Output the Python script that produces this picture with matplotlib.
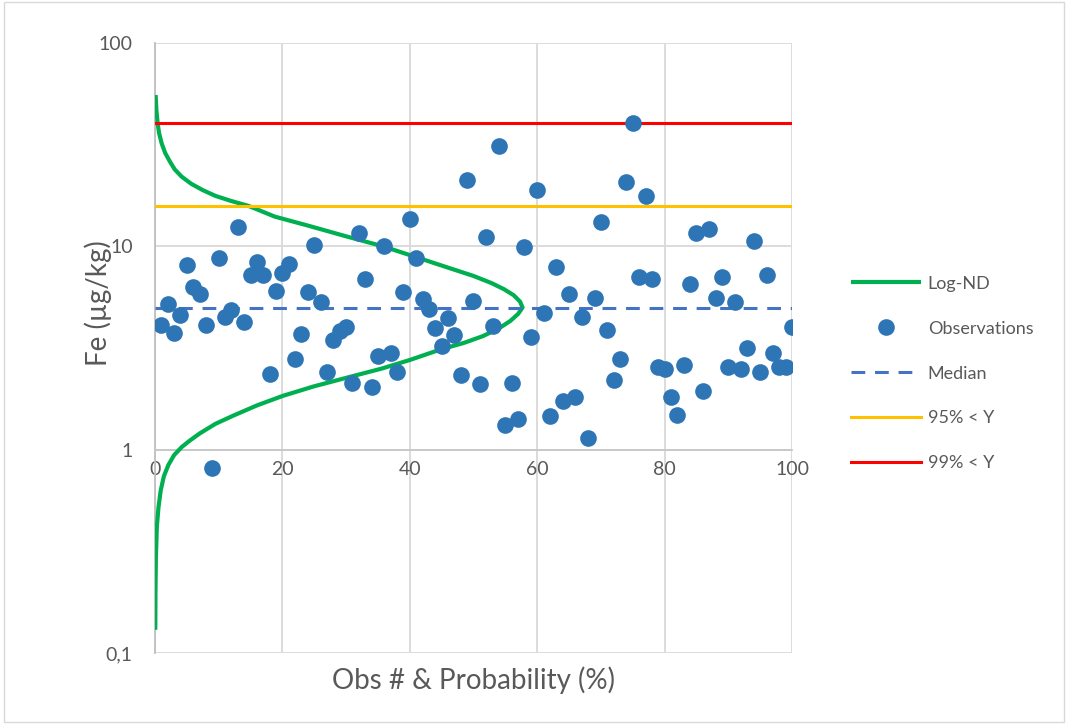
#!/usr/bin/env python3
"""Fe observations against a fitted log-normal density, with median and upper limits."""

import matplotlib.pyplot as plt
from matplotlib.patches import Rectangle
from matplotlib.ticker import FixedLocator, FuncFormatter, NullLocator

plt.rcParams["font.family"] = ["Lato", "DejaVu Sans"]

# observation number and measured Fe (µg/kg)
obs_no = list(range(1, 101))
fe_obs = [
    4.1, 5.2, 3.75, 4.6, 8.1, 6.3, 5.8, 4.1, 0.81, 8.8,
    4.5, 4.85, 12.5, 4.25, 7.2, 8.4, 7.2, 2.35, 6.0, 7.4,
    8.2, 2.78, 3.7, 5.95, 10.2, 5.3, 2.4, 3.45, 3.85, 4.0,
    2.13, 11.6, 6.9, 2.04, 2.9, 10.0, 3.0, 2.4, 5.95, 13.6,
    8.8, 5.5, 4.9, 3.95, 3.25, 4.45, 3.65, 2.33, 21.3, 5.4,
    2.1, 11.1, 4.07, 31.0, 1.32, 2.13, 1.41, 9.9, 3.6, 18.9,
    4.7, 1.47, 7.9, 1.74, 5.8, 1.82, 4.5, 1.14, 5.6, 13.2,
    3.88, 2.2, 2.78, 20.8, 40.3, 7.1, 17.7, 6.9, 2.55, 2.48,
    1.82, 1.48, 2.6, 6.5, 11.6, 1.95, 12.1, 5.55, 7.1, 2.56,
    5.3, 2.5, 3.15, 10.6, 2.4, 7.2, 3.0, 2.55, 2.55, 4.0,
]

# log-normal density (probability %) traced against Fe level, low to high
lognd_prob = [
    0.05, 0.08, 0.15, 0.3, 0.55, 0.9, 1.4, 2.1, 3.0, 4.2,
    5.5, 7.0, 9.5, 12.3, 16.0, 20.1, 25.0, 30.6, 35.5, 40.0,
    44.7, 48.5, 51.5, 54.0, 55.8, 57.0, 57.7, 57.3, 56.3, 54.8,
    52.8, 50.0, 45.5, 40.5, 35.8, 30.0, 23.8, 18.8, 14.7, 12.0,
    9.5, 7.5, 5.7, 4.2, 3.1, 2.35, 1.6, 1.05, 0.65, 0.42,
    0.22, 0.1,
]
lognd_fe = [
    0.13, 0.2, 0.3, 0.42, 0.52, 0.63, 0.74, 0.84, 0.94, 1.03,
    1.11, 1.2, 1.34, 1.47, 1.65, 1.84, 2.05, 2.28, 2.5, 2.76,
    3.1, 3.35, 3.62, 3.95, 4.3, 4.65, 5.0, 5.35, 5.75, 6.15,
    6.6, 7.15, 7.95, 8.95, 10.0, 11.2, 12.7, 14.0, 15.8, 16.7,
    17.7, 18.9, 20.3, 22.0, 23.9, 26.1, 28.8, 32.1, 36.0, 40.2,
    47.0, 55.5,
]

median_fe = 5.0
p95_fe = 15.8
p99_fe = 40.3
x_span = [0, 100]

text_grey = "#595959"

fig = plt.figure(figsize=(10.68, 7.24), dpi=100)
ax = fig.add_axes([0.1451, 0.0981, 0.7416 - 0.1451, 0.9406 - 0.0981])

curve, = ax.plot(lognd_prob, lognd_fe, color="#00B050", lw=3.0,
                 solid_capstyle="butt", solid_joinstyle="round", zorder=3,
                 label="Log-ND")
med, = ax.plot(x_span, [median_fe] * 2, color="#4472C4", lw=2.2,
               dashes=(4.5, 3.2), zorder=3, label="Median")
l95, = ax.plot(x_span, [p95_fe] * 2, color="#FFC000", lw=2.2, zorder=3,
               label="95% < Y")
l99, = ax.plot(x_span, [p99_fe] * 2, color="#FF0000", lw=2.2, zorder=3,
               label="99% < Y")
pts, = ax.plot(obs_no, fe_obs, "o", color="#2E75B6", ms=12, mew=0,
               zorder=4, label="Observations")

ax.set_yscale("log")
ax.set_xlim(0, 100)
ax.set_ylim(0.1, 100)

ax.xaxis.set_major_locator(FixedLocator([0, 20, 40, 60, 80, 100]))
ax.yaxis.set_major_locator(FixedLocator([0.1, 1, 10, 100]))
ax.yaxis.set_minor_locator(NullLocator())
ax.yaxis.set_major_formatter(
    FuncFormatter(lambda v, _: f"{v:g}".replace(".", ",")))
ax.tick_params(length=0, labelsize=14, labelcolor=text_grey)
ax.tick_params(axis="y", pad=16)
ax.tick_params(axis="x", pad=8)

ax.grid(True, color="#D9D9D9", lw=1.3)
ax.set_axisbelow(True)
for side in ("top", "right"):
    ax.spines[side].set_visible(False)
# horizontal axis crosses the value axis at 1
ax.spines["bottom"].set_position(("data", 1))
ax.spines["bottom"].set_color("#C8C8C8")
ax.spines["left"].set_color("#BFBFBF")
ax.spines["bottom"].set_linewidth(1.3)
ax.spines["left"].set_linewidth(1.3)

fig.text(0.0918, 0.582, "Fe (µg/kg)", rotation=90, ha="center", va="center",
         fontsize=20, color=text_grey)
fig.text(0.4434, 0.0608, "Obs # & Probability (%)", ha="center", va="center",
         fontsize=20, color=text_grey)

fig.legend(handles=[curve, pts, med, l95, l99], loc="center left",
           bbox_to_anchor=(0.79, 0.484), frameon=False, fontsize=13,
           labelcolor=text_grey, handlelength=3.9, handletextpad=0.35,
           labelspacing=1.6, borderaxespad=0)

fig.patches.append(Rectangle((0.004, 0.003), 0.992, 0.994, transform=fig.transFigure,
                             fill=False, edgecolor="#D9D9D9", lw=1.0))

fig.savefig("out.png", dpi=100)
